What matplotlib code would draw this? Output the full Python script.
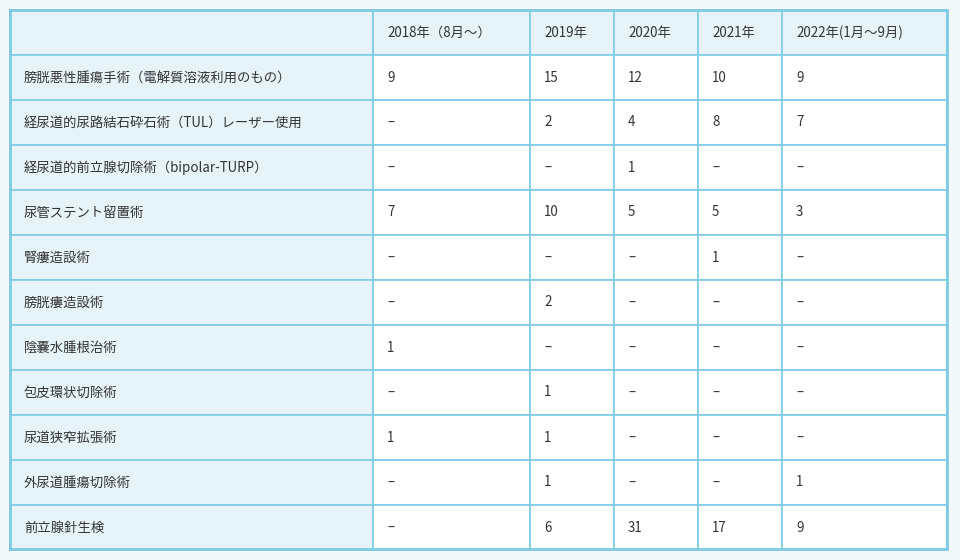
import matplotlib
matplotlib.use("Agg")
import matplotlib.pyplot as plt
from matplotlib.patches import Rectangle

headers = ["", "2018年（8月～）", "2019年", "2020年", "2021年", "2022年(1月～9月)"]
procedures = [
    "膀胱悪性腫瘍手術（電解質溶液利用のもの）",
    "経尿道的尿路結石砕石術（TUL）レーザー使用",
    "経尿道的前立腺切除術（bipolar-TURP）",
    "尿管ステント留置術",
    "腎瘻造設術",
    "膀胱瘻造設術",
    "陰嚢水腫根治術",
    "包皮環状切除術",
    "尿道狭窄拡張術",
    "外尿道腫瘍切除術",
    "前立腺針生検",
]
D = "–"
y2018 = ["9", D, D, "7", D, D, "1", D, "1", D, D]
y2019 = ["15", "2", D, "10", D, "2", D, "1", "1", "1", "6"]
y2020 = ["12", "4", "1", "5", D, D, D, D, D, D, "31"]
y2021 = ["10", "8", D, "5", "1", D, D, D, D, D, "17"]
y2022 = ["9", "7", D, "3", D, D, D, D, D, "1", "9"]
columns = [procedures, y2018, y2019, y2020, y2021, y2022]

col_edges = [10, 373, 530, 614, 698, 782, 947]
top, header_h, row_h = 10, 45, 45
border = "#7ecbe6"
light = "#e6f4fa"
txt = "#333333"
plt.rcParams["font.family"] = ["Noto Sans CJK JP"]

fig = plt.figure(figsize=(9.6, 5.6), dpi=100)
fig.patch.set_facecolor("#f3f8fb")
ax = fig.add_axes([0, 0, 1, 1])
ax.set_xlim(0, 960); ax.set_ylim(560, 0); ax.axis("off")

nrows = len(procedures)
bottom = top + header_h + nrows * row_h - 1
row_tops = [top] + [top + header_h + i * row_h for i in range(nrows)]
row_hs = [header_h] + [row_h] * nrows

for r, (ry, rh) in enumerate(zip(row_tops, row_hs)):
    for c in range(6):
        x0, x1 = col_edges[c], col_edges[c + 1]
        fc = light if (r == 0 or c == 0) else "white"
        ax.add_patch(Rectangle((x0, ry), x1 - x0, rh, facecolor=fc,
                               edgecolor=border, linewidth=1.2))
        text = headers[c] if r == 0 else columns[c][r - 1]
        ax.text(x0 + 14, ry + rh / 2, text, ha="left", va="center",
                fontsize=9.6, color=txt)

ax.add_patch(Rectangle((col_edges[0], top), col_edges[-1] - col_edges[0],
                       bottom - top, fill=False, edgecolor=border, linewidth=2))
fig.savefig("out.png", dpi=100, facecolor=fig.get_facecolor())
